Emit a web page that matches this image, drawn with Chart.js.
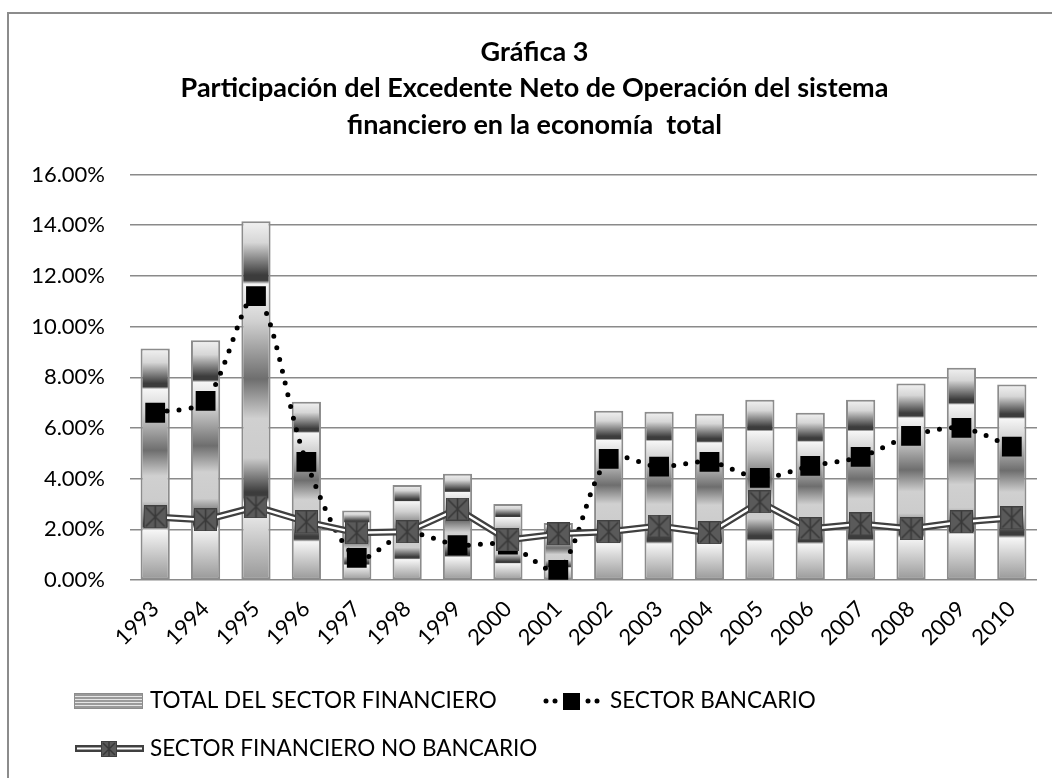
<!DOCTYPE html>
<html>
<head>
<meta charset="utf-8">
<title>Gráfica 3</title>
<script src="https://cdn.jsdelivr.net/npm/chart.js@4.4.1/dist/chart.umd.min.js"></script>
<style>
    html, body { margin: 0; padding: 0; background: #fff; }
    #wrap { width: 1052px; height: 778px; overflow: hidden; }
</style>
</head>
<body>
<div id="wrap"><canvas id="grafica3" width="1052" height="778"></canvas></div>
<script>
// datos (porcentaje de la economía total)
var years = ["1993", "1994", "1995", "1996", "1997", "1998", "1999", "2000", "2001",
    "2002", "2003", "2004", "2005", "2006", "2007", "2008", "2009", "2010"];
var totalSector = [9.13, 9.46, 14.16, 7.03, 2.74, 3.75, 4.19, 3.00, 2.25,
    6.68, 6.64, 6.56, 7.11, 6.60, 7.11, 7.75, 8.38, 7.71];
var sectorBancario = [6.60, 7.07, 11.20, 4.66, 0.87, 1.85, 1.38, 1.40, 0.40,
    4.78, 4.47, 4.66, 4.03, 4.50, 4.86, 5.69, 6.00, 5.26];
var sectorNoBancario = [2.49, 2.37, 2.89, 2.29, 1.86, 1.90, 2.80, 1.58, 1.82,
    1.90, 2.13, 1.86, 3.08, 2.02, 2.21, 2.02, 2.29, 2.45];
var yMax = 16;
var yStep = 2;
var seriesNames = ["TOTAL DEL SECTOR FINANCIERO", "SECTOR BANCARIO", "SECTOR FINANCIERO NO BANCARIO"];
var titleLines = ["Gráfica 3",
    "Participación del Excedente Neto de Operación del sistema",
    "financiero en la economía  total"];

// marcador cuadrado gris con aspa
function makeXMarker(size) {
    var c = document.createElement('canvas');
    c.width = size;
    c.height = size;
    var g = c.getContext('2d');
    g.fillStyle = '#5a5a5a';
    g.fillRect(0, 0, size, size);
    g.strokeStyle = '#404040';
    g.lineWidth = 1;
    g.strokeRect(0.5, 0.5, size - 1, size - 1);
    g.beginPath();
    g.moveTo(2, 2); g.lineTo(size - 2, size - 2);
    g.moveTo(size - 2, 2); g.lineTo(2, size - 2);
    g.moveTo(size / 2, 1); g.lineTo(size / 2, size - 1);
    g.lineWidth = 1.5;
    g.strokeStyle = '#383838';
    g.stroke();
    return c;
}
var xMarker = makeXMarker(23);
var xMarkerSmall = makeXMarker(16);

// degradado tipo "cromo" de las barras
var barStops = [
    [0.00, '#f2f2f2'], [0.06, '#d6d6d6'], [0.15, '#3c3c3c'], [0.165, '#3c3c3c'],
    [0.175, '#f6f6f6'], [0.28, '#d0d0d0'], [0.44, '#6e6e6e'], [0.55, '#d0d0d0'],
    [0.66, '#cccccc'], [0.755, '#3c3c3c'], [0.77, '#3c3c3c'], [0.785, '#f6f6f6'],
    [1.00, '#989898']
];

function barGradient(context) {
    var chart = context.chart;
    if (!chart.chartArea || context.raw === undefined) return '#c8c8c8';
    var y = chart.scales.y;
    var top = y.getPixelForValue(context.raw);
    var bottom = y.getPixelForValue(0);
    var grad = chart.ctx.createLinearGradient(0, top, 0, bottom);
    barStops.forEach(function (s) { grad.addColorStop(s[0], s[1]); });
    return grad;
}

// marco exterior + titulo un poco a la derecha, como en el original
var framePlugin = {
    id: 'marco',
    afterLayout: function (chart) {
        chart.titleBlock.left += 10;
        chart.titleBlock.right += 10;
    },
    beforeDraw: function (chart) {
        var ctx = chart.ctx;
        ctx.save();
        ctx.fillStyle = '#fff';
        ctx.fillRect(0, 0, chart.width, chart.height);
        ctx.strokeStyle = '#8c8c8c';
        ctx.lineWidth = 2;
        ctx.strokeRect(8, 13, 1200, 900);
        ctx.restore();
    }
};

// leyenda dibujada a mano (dos filas como en el original)
var legendPlugin = {
    id: 'leyenda',
    afterDraw: function (chart) {
        var ctx = chart.ctx;
        ctx.save();

        // total: franjas grises
        ctx.fillStyle = '#e6e6e6';
        ctx.fillRect(74, 693, 69, 16);
        ctx.fillStyle = '#9a9a9a';
        for (var i = 0; i < 5; i++) {
            ctx.fillRect(74, 694 + i * 3, 69, 2);
        }
        ctx.strokeStyle = '#8c8c8c';
        ctx.lineWidth = 1;
        ctx.strokeRect(74.5, 693.5, 68, 15);

        // bancario: puntos + cuadrado negro
        ctx.fillStyle = '#000';
        [546, 555, 588, 597].forEach(function (x) {
            ctx.beginPath();
            ctx.arc(x, 701, 2.5, 0, Math.PI * 2);
            ctx.fill();
        });
        ctx.fillRect(563, 693, 17, 17);

        // no bancario: linea doble + marcador
        ctx.fillStyle = '#404040';
        ctx.fillRect(75, 745, 69, 7);
        ctx.fillStyle = '#fff';
        ctx.fillRect(77, 747.5, 65, 2);
        ctx.drawImage(xMarkerSmall, 101, 741);

        ctx.fillStyle = '#000';
        ctx.font = '22.5px Lato';
        ctx.textBaseline = 'middle';
        ctx.fillText(seriesNames[0], 150, 701);
        ctx.fillText(seriesNames[1], 610, 701);
        ctx.fillText(seriesNames[2], 150, 749);
        ctx.restore();
    }
};

var ctx = document.getElementById('grafica3').getContext('2d');
var chart = new Chart(ctx, {
    type: 'bar',
    data: {
        labels: years,
        datasets: [{
            type: 'bar',
            label: seriesNames[0],
            data: totalSector,
            backgroundColor: barGradient,
            borderColor: '#8c8c8c',
            borderWidth: 2,
            borderSkipped: false,
            barPercentage: 0.58,
            categoryPercentage: 1,
            order: 4
        }, {
            type: 'line',
            label: seriesNames[1],
            data: sectorBancario,
            borderColor: '#000',
            borderWidth: 5,
            borderDash: [0, 12],
            borderCapStyle: 'round',
            tension: 0.3,
            pointStyle: 'rect',
            pointRadius: 14,
            pointBackgroundColor: '#000',
            pointBorderColor: '#000',
            pointBorderWidth: 0,
            order: 3
        }, {
            // borde oscuro de la linea doble
            type: 'line',
            label: seriesNames[2],
            data: sectorNoBancario,
            borderColor: '#404040',
            borderWidth: 7,
            pointRadius: 0,
            tension: 0,
            order: 2
        }, {
            // centro blanco de la linea doble + marcadores
            type: 'line',
            label: seriesNames[2],
            data: sectorNoBancario,
            borderColor: '#fff',
            borderWidth: 2.5,
            pointStyle: xMarker,
            pointRadius: 12,
            tension: 0,
            order: 1
        }]
    },
    options: {
        responsive: false,
        animation: false,
        layout: {
            padding: { left: 12, right: 15, top: 0, bottom: 128 }
        },
        plugins: {
            legend: { display: false },
            tooltip: { enabled: false },
            title: {
                display: true,
                text: titleLines,
                color: '#000',
                font: { family: 'Lato', size: 27, weight: 'bold', lineHeight: 1.352 },
                padding: { top: 34, bottom: 31 }
            }
        },
        scales: {
            x: {
                grid: { display: false },
                border: { display: false },
                ticks: {
                    color: '#000',
                    font: { family: 'Lato', size: 22 },
                    minRotation: 45,
                    maxRotation: 45,
                    autoSkip: false,
                    padding: 8
                },
                afterFit: function (scale) { scale.height = 70; }
            },
            y: {
                min: 0,
                max: yMax,
                grid: { color: '#8a8a8a', lineWidth: 1.5, drawTicks: false },
                border: { display: false },
                ticks: {
                    stepSize: yStep,
                    padding: 25,
                    color: '#000',
                    font: { family: 'Lato', size: 22 },
                    callback: function (v) { return v.toFixed(2) + '%'; }
                },
                afterFit: function (scale) { scale.width = 118; }
            }
        }
    },
    plugins: [framePlugin, legendPlugin]
});
</script>
</body>
</html>
